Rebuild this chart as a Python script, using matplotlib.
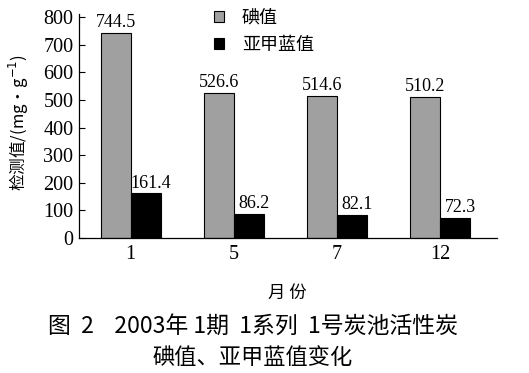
import matplotlib
matplotlib.use("Agg")
import matplotlib.pyplot as plt
import numpy as np

months = ["1", "5", "7", "12"]
iodine = [744.5, 526.6, 514.6, 510.2]
mb = [161.4, 86.2, 82.1, 72.3]
series_names = ["碘值", "亚甲蓝值"]
yticks = [0, 100, 200, 300, 400, 500, 600, 700, 800]

cjk = ["Noto Sans CJK SC", "DejaVu Sans"]
serif = ["Liberation Serif", "DejaVu Serif"]

fig = plt.figure(figsize=(5.29, 3.73), dpi=100)
ax = fig.add_axes([79/529, 1-238/373, (497-79)/529, (238-14)/373])

x = np.arange(len(months))
w = 0.29
ax.bar(x - w/2, iodine, w, color="#a0a0a0", edgecolor="black", linewidth=0.8, label=series_names[0])
ax.bar(x + w/2, mb, w, color="black", edgecolor="black", linewidth=0.8, label=series_names[1])

for xi, v in zip(x - w/2, iodine):
    ax.text(xi, v + 7, f"{v:.1f}", ha="center", va="bottom", fontsize=13, family=serif)
for xi, v in zip(x + w/2, mb):
    ax.text(xi + 0.05, v + 7, f"{v:.1f}", ha="center", va="bottom", fontsize=13, family=serif)

ax.set_xlim(-0.5, 3.55)
ax.set_ylim(0, 812)
ax.set_yticks(yticks)
ax.set_yticklabels([str(t) for t in yticks], family=serif, fontsize=14.5)
ax.set_xticks(x)
ax.set_xticklabels(months, family=serif, fontsize=14.5)
ax.tick_params(axis="y", direction="in", length=4, width=0.8, pad=4)
ax.tick_params(axis="x", length=0, pad=5)
for s in ["top", "right"]:
    ax.spines[s].set_visible(False)
ax.spines["left"].set_linewidth(0.9)
ax.spines["bottom"].set_linewidth(0.9)

ax.set_ylabel("检测值/(mg·g$^{-1}$)", family=cjk, fontsize=12)
ax.yaxis.set_label_coords((31-79)/418, 0.516)
ax.set_xlabel("月 份", family=cjk, fontsize=12.5)
ax.xaxis.set_label_coords((287-79)/418, -0.205)

ax.legend(loc="upper left", bbox_to_anchor=(0.284, 1.095), frameon=False,
          prop={"family": cjk, "size": 13}, handlelength=0.55, handleheight=0.55,
          handletextpad=1.0, labelspacing=0.5)

fig.text(253/529, 1-326/373, "图  2    2003年 1期  1系列  1号炭池活性炭", ha="center", va="center",
         family=cjk, fontsize=16.5)
fig.text(253/529, 1-357/373, "碘值、亚甲蓝值变化", ha="center", va="center",
         family=cjk, fontsize=16)

fig.savefig("out.png", dpi=100)
